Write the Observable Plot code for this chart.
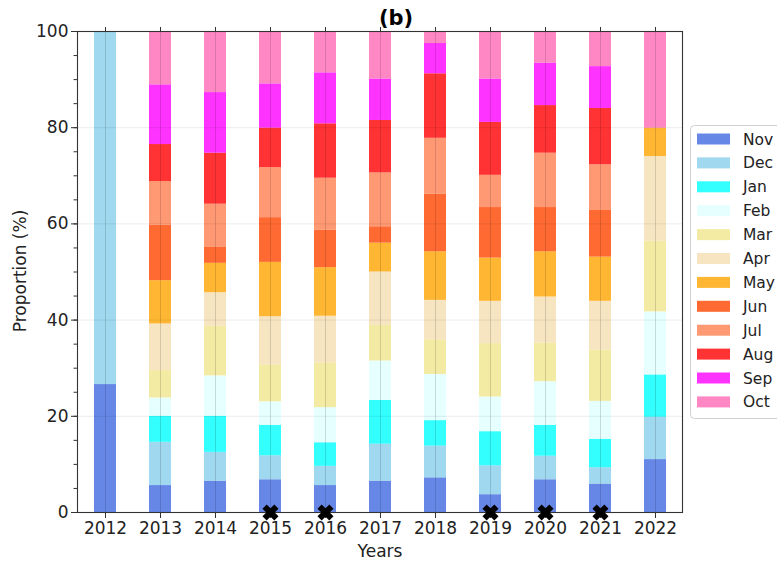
<!DOCTYPE html>
<html>
<head>
<meta charset="utf-8">
<script src="https://cdn.jsdelivr.net/npm/d3@7"></script>
<script src="https://cdn.jsdelivr.net/npm/@observablehq/plot@0.6"></script>
<style>
  html, body { margin: 0; padding: 0; background: #fff; }
  #chart { position: relative; width: 777px; height: 563px; overflow: hidden; }
</style>
</head>
<body>
<div id="chart"></div>
<script>
const years = [2012, 2013, 2014, 2015, 2016, 2017, 2018, 2019, 2020, 2021, 2022];
const months = ["Nov", "Dec", "Jan", "Feb", "Mar", "Apr", "May", "Jun", "Jul", "Aug", "Sep", "Oct"];
const colors = ["royalblue", "skyblue", "aqua", "lightcyan", "khaki", "wheat", "orange", "orangered", "coral", "red", "magenta", "hotpink"];

const Nov = [26.6, 5.6, 6.5, 6.8, 5.6, 6.5, 7.2, 3.7, 6.8, 5.9, 11.0];
const Dec = [73.4, 9.0, 6.0, 5.0, 4.0, 7.7, 6.6, 6.0, 4.9, 3.4, 8.8];
const Jan = [0, 5.4, 7.5, 6.3, 4.9, 9.1, 5.3, 7.1, 6.4, 5.9, 8.8];
const Feb = [0, 3.8, 8.4, 4.9, 7.3, 8.2, 9.6, 7.2, 9.1, 7.9, 13.1];
const Mar = [0, 5.7, 10.3, 7.7, 9.3, 7.4, 7.2, 11.1, 8.0, 10.7, 14.7];
const Apr = [0, 9.7, 7.0, 10.0, 9.7, 11.1, 8.2, 8.8, 9.6, 10.1, 17.6];
const May = [0, 9.0, 6.1, 11.3, 10.1, 6.0, 10.1, 9.0, 9.4, 9.2, 5.9];
const Jun = [0, 11.5, 3.3, 9.3, 7.8, 3.4, 12.0, 10.5, 9.2, 9.8, 0];
const Jul = [0, 9.1, 9.0, 10.4, 10.8, 11.2, 11.6, 6.7, 11.3, 9.4, 0];
const Aug = [0, 7.7, 10.6, 8.2, 11.3, 10.9, 13.4, 11.0, 9.9, 11.7, 0];
const Sep = [0, 12.4, 12.6, 9.2, 10.6, 8.6, 6.3, 9.0, 8.8, 8.7, 0];
const Oct = [0, 11.1, 12.7, 10.9, 8.6, 9.9, 2.5, 9.9, 6.6, 7.3, 20.1];

const markedYears = [2015, 2016, 2019, 2020, 2021];
const yTicks = [0, 20, 40, 60, 80, 100];

const series = [Nov, Dec, Jan, Feb, Mar, Apr, May, Jun, Jul, Aug, Sep, Oct];
const rows = [];
years.forEach((yr, i) => {
  months.forEach((m, j) => {
    rows.push({year: yr, month: m, value: series[j][i]});
  });
});

// filled "X" marker (like matplotlib 'X')
const filledX = {
  draw(context, size) {
    const r = Math.sqrt(size / Math.PI);
    const L = r * 1.05, h = r * 0.37;
    const pts = [[h, L], [h, h], [L, h], [L, -h], [h, -h], [h, -L], [-h, -L], [-h, -h], [-L, -h], [-L, h], [-h, h], [-h, L]];
    const rot = pts.map(([x, y]) => [(x - y) / Math.SQRT2, (x + y) / Math.SQRT2]);
    context.moveTo(rot[0][0], rot[0][1]);
    for (let k = 1; k < rot.length; k++) context.lineTo(rot[k][0], rot[k][1]);
    context.closePath();
  }
};

const plot = Plot.plot({
  width: 777,
  height: 563,
  marginLeft: 77,
  marginRight: 95,
  marginTop: 31,
  marginBottom: 51,
  style: {fontFamily: "DejaVu Sans", fontSize: "17px", color: "#222", background: "#fff"},
  x: {type: "band", domain: years, paddingInner: 0.6, paddingOuter: 0.3, label: null},
  y: {domain: [0, 100], label: null},
  color: {domain: months, range: colors},
  marks: [
    Plot.barY(rows, {x: "year", y: "value", fill: "month", fillOpacity: 0.8}),
    Plot.gridY({ticks: [20, 40, 60, 80], stroke: "#000", strokeOpacity: 0.08}),
    Plot.gridX({stroke: "#000", strokeOpacity: 0.14}),
    Plot.frame({stroke: "#333", strokeWidth: 1.1}),
    Plot.axisX({anchor: "bottom", tickSize: 6, tickPadding: 3, tickFormat: d => String(d), stroke: "#333", fill: "#222", label: null}),
    Plot.axisX({anchor: "top", tickSize: 5, tickFormat: () => "", stroke: "#333", label: null}),
    Plot.axisY({ticks: d3.range(0, 101, 5), tickSize: 3.5, tickFormat: () => "", stroke: "#333", label: null}),
    Plot.axisY({ticks: yTicks, tickSize: 6, tickPadding: 3, stroke: "#333", fill: "#222", label: null}),
    Plot.dot(markedYears, {x: d => d, y: () => 0, symbol: filledX, r: 8, fill: "#000", stroke: "none"})
  ]
});

const svg = d3.select(plot);

svg.append("text")
  .attr("x", 396).attr("y", 25)
  .attr("text-anchor", "middle")
  .attr("font-family", "DejaVu Sans").attr("font-weight", "bold")
  .attr("font-size", 21).attr("fill", "#000")
  .text("(b)");

svg.append("text")
  .attr("transform", "translate(26,271) rotate(-90)")
  .attr("text-anchor", "middle")
  .attr("font-family", "DejaVu Sans").attr("font-size", 17).attr("fill", "#222")
  .text("Proportion (%)");

svg.append("text")
  .attr("x", 380).attr("y", 557)
  .attr("text-anchor", "middle")
  .attr("font-family", "DejaVu Sans").attr("font-size", 17).attr("fill", "#222")
  .text("Years");

// legend
const lg = svg.append("g");
lg.append("rect")
  .attr("x", 690.5).attr("y", 125.5).attr("width", 110).attr("height", 293)
  .attr("rx", 4).attr("fill", "#fff").attr("stroke", "#d0d0d0");
months.forEach((m, i) => {
  const cy = 139 + i * 23.9;
  lg.append("rect")
    .attr("x", 697).attr("y", cy - 5.5).attr("width", 33).attr("height", 11)
    .attr("fill", colors[i]).attr("fill-opacity", 0.8);
  lg.append("text")
    .attr("x", 743).attr("y", cy).attr("dy", "0.36em")
    .attr("text-anchor", "start")
    .attr("font-family", "DejaVu Sans").attr("font-size", 15.5).attr("fill", "#222")
    .text(m);
});

document.getElementById("chart").appendChild(plot);
</script>
</body>
</html>
